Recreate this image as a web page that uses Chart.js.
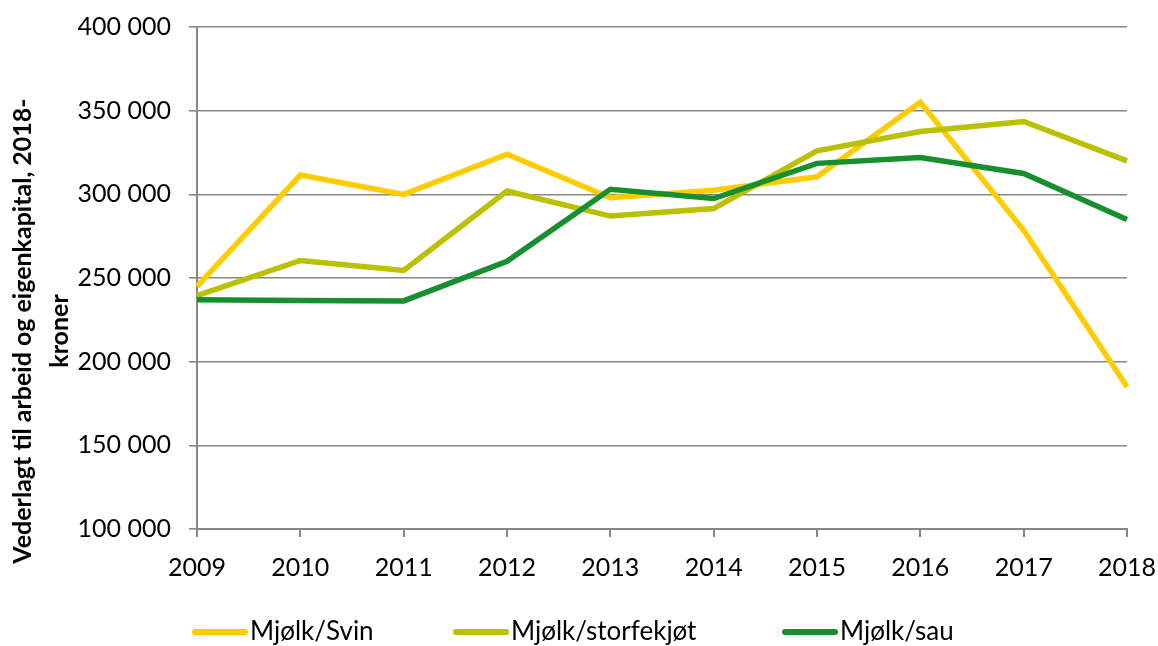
<!DOCTYPE html>
<html>
<head>
<meta charset="utf-8">
<script src="https://cdn.jsdelivr.net/npm/chart.js@4.4.0/dist/chart.umd.min.js"></script>
<style>
  body { margin: 0; background: #fff; }
  #wrap { width: 1158px; height: 646px; }
</style>
</head>
<body>
<div id="wrap"><canvas id="myChart" width="1158" height="646"></canvas></div>
<script>
const years = ["2009", "2010", "2011", "2012", "2013", "2014", "2015", "2016", "2017", "2018"];
const mjolkSvin = [245000, 311500, 300000, 324000, 298000, 302500, 310500, 355000, 278500, 185000];
const mjolkStorfe = [239500, 260500, 254500, 302000, 287000, 291500, 326000, 337500, 343500, 320000];
const mjolkSau = [237000, 236500, 236300, 260000, 303000, 297500, 318500, 322000, 312500, 285000];
const yMin = 100000;
const yMax = 400000;
const yStep = 50000;
const yTitle = ["Vederlagt til arbeid og eigenkapital, 2018-", "kroner"];

// y-akse tittel tegnes selv, Excel sentrerer den litt lavere enn chart.js
const yTitlePlugin = {
    id: "yTitle",
    afterDraw: function (chart) {
        const c = chart.ctx;
        c.save();
        c.fillStyle = "#000";
        c.font = "bold 25px Lato";
        c.textAlign = "center";
        c.textBaseline = "middle";
        c.translate(0, 331);
        c.rotate(-Math.PI / 2);
        c.fillText(yTitle[0], 0, 23);
        c.fillText(yTitle[1], 0, 60);
        c.restore();
    },
};

// legenden plassert som i Excel (ujevn avstand mellom elementene)
const legendX = [192, 453, 782];
const legendPlugin = {
    id: "excelLegend",
    afterDraw: function (chart) {
        const c = chart.ctx;
        c.save();
        c.font = "26px Lato";
        c.textBaseline = "middle";
        c.lineCap = "round";
        c.lineWidth = 6;
        chart.data.datasets.forEach(function (ds, i) {
            const x = legendX[i];
            const y = 632;
            c.strokeStyle = ds.borderColor;
            c.beginPath();
            c.moveTo(x + 3, y);
            c.lineTo(x + 53, y);
            c.stroke();
            c.fillStyle = "#000";
            c.fillText(ds.label, x + 58, y);
        });
        c.restore();
    },
};

document.addEventListener("DOMContentLoaded", function () {
    const ctx = document.getElementById("myChart").getContext("2d");
    const axisGrey = "#878787";

    const myChart = new Chart(ctx, {
        type: "line",
        data: {
            labels: years,
            datasets: [
                {
                    label: "Mjølk/Svin",
                    data: mjolkSvin,
                    borderColor: "#ffcc00",
                    backgroundColor: "#ffcc00",
                    order: 3,
                },
                {
                    label: "Mjølk/storfekjøt",
                    data: mjolkStorfe,
                    borderColor: "#b9c100",
                    backgroundColor: "#b9c100",
                    order: 2,
                },
                {
                    label: "Mjølk/sau",
                    data: mjolkSau,
                    borderColor: "#178f2f",
                    backgroundColor: "#178f2f",
                    order: 1,
                },
            ],
        },
        plugins: [yTitlePlugin, legendPlugin],
        options: {
            responsive: false,
            animation: false,
            layout: {
                padding: { top: 27, right: 0, left: 0, bottom: 36 },
            },
            elements: {
                line: { borderWidth: 5.5, tension: 0, borderCapStyle: "butt" },
                point: { radius: 0 },
            },
            plugins: {
                tooltip: { enabled: false },
                legend: { display: false },
            },
            scales: {
                x: {
                    offset: false,
                    afterFit: function (scale) {
                        scale.height = 81;
                        scale.paddingRight = 31;
                        scale.paddingLeft = 0;
                    },
                    border: { color: axisGrey, width: 2 },
                    grid: {
                        drawOnChartArea: false,
                        drawTicks: true,
                        tickLength: 8,
                        color: axisGrey,
                        lineWidth: 2,
                    },
                    ticks: {
                        color: "#000",
                        padding: 16,
                        maxRotation: 0,
                        font: { family: "Lato", size: 25 },
                    },
                },
                y: {
                    min: yMin,
                    max: yMax,
                    afterFit: function (scale) {
                        scale.width = 197;
                        scale.paddingTop = 0;
                        scale.paddingBottom = 0;
                    },
                    border: { color: axisGrey, width: 2 },
                    grid: {
                        color: axisGrey,
                        lineWidth: 1.6,
                        tickLength: 8,
                    },
                    ticks: {
                        stepSize: yStep,
                        color: "#000",
                        padding: 18,
                        font: { family: "Lato", size: 25 },
                        callback: function (v) {
                            return String(v).replace(/\B(?=(\d{3})+(?!\d))/g, " ");
                        },
                    },
                },
            },
        },
    });
});
</script>
</body>
</html>
